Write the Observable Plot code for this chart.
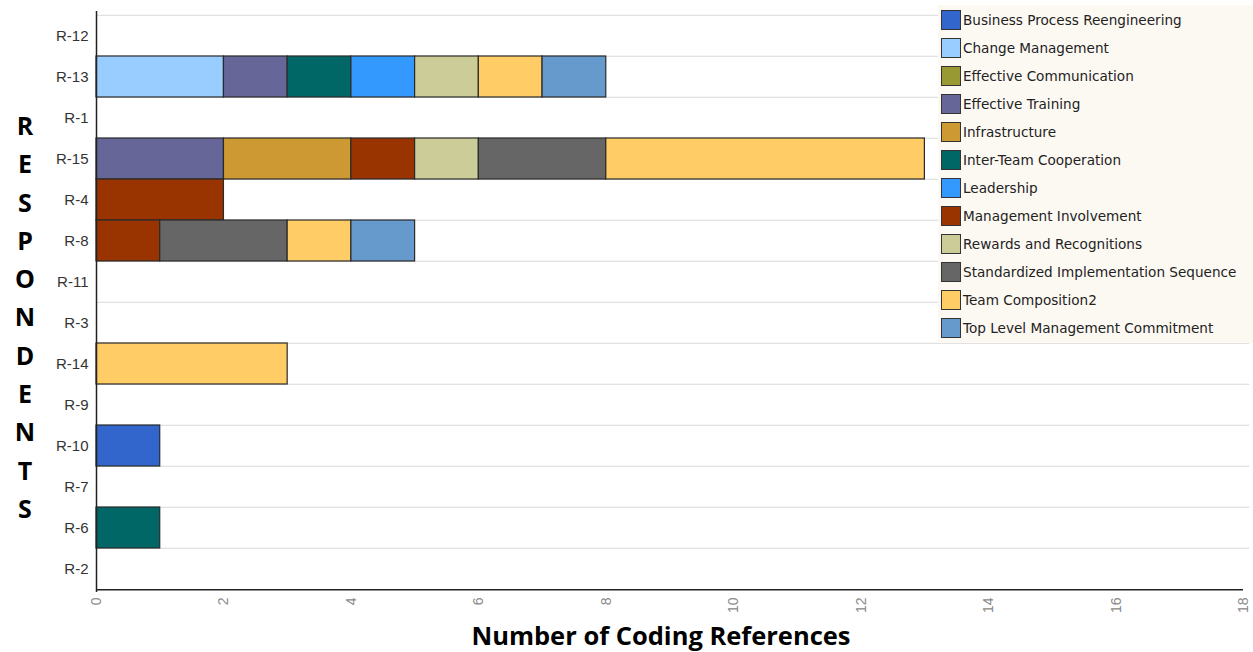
<!DOCTYPE html>
<html>
<head>
<meta charset="utf-8">
<script src="https://cdn.jsdelivr.net/npm/d3@7"></script>
<script src="https://cdn.jsdelivr.net/npm/@observablehq/plot@0.6"></script>
<style>
  html, body { margin: 0; padding: 0; background: #fff; }
  #wrap { position: relative; width: 1253px; height: 652px; overflow: hidden; }
  #ytitle { position: absolute; left: 11px; top: 106px; width: 28px; text-align: center;
    font-family: "Open Sans", sans-serif; font-weight: 700; font-size: 25px; line-height: 38.3px; color: #000; }
  #xtitle { position: absolute; left: 80px; width: 1162px; top: 617px; text-align: center;
    font-family: "Open Sans", sans-serif; font-weight: 700; font-size: 25.5px; line-height: 36px; color: #000; }
  #legend { position: absolute; left: 938px; top: 5px; width: 315px; height: 338px; background: #fcf9f3; }
  .item { position: absolute; left: 3px; height: 20px; display: flex; align-items: center;
    font-family: "DejaVu Sans", sans-serif; font-size: 13.6px; color: #222; white-space: nowrap; }
  .sw { width: 18px; height: 18px; border: 1px solid #333; margin-right: 2px; flex: none; }
</style>
</head>
<body>
<div id="wrap">
  <div id="chart"></div>
  <div id="ytitle"></div>
  <div id="xtitle"></div>
  <div id="legend"></div>
</div>
<script>
const respondents = ["R-12","R-13","R-1","R-15","R-4","R-8","R-11","R-3","R-14","R-9","R-10","R-7","R-6","R-2"];
const codes = ["Business Process Reengineering","Change Management","Effective Communication","Effective Training","Infrastructure","Inter-Team Cooperation","Leadership","Management Involvement","Rewards and Recognitions","Standardized Implementation Sequence","Team Composition2","Top Level Management Commitment"];
const colors = ["#3366cc","#99ccff","#999933","#666699","#cc9933","#006666","#3399ff","#993300","#cccc99","#666666","#ffcc66","#6699cc"];
const xTicks = [0,2,4,6,8,10,12,14,16,18];
// counts per respondent, in code order
const r13 = {"Change Management":2,"Effective Training":1,"Inter-Team Cooperation":1,"Leadership":1,"Rewards and Recognitions":1,"Team Composition2":1,"Top Level Management Commitment":1};
const r15 = {"Effective Training":2,"Infrastructure":2,"Management Involvement":1,"Rewards and Recognitions":1,"Standardized Implementation Sequence":2,"Team Composition2":5};
const r4 = {"Management Involvement":2};
const r8 = {"Management Involvement":1,"Standardized Implementation Sequence":2,"Team Composition2":1,"Top Level Management Commitment":1};
const r14 = {"Team Composition2":3};
const r10 = {"Business Process Reengineering":1};
const r6 = {"Inter-Team Cooperation":1};
const counts = {"R-13": r13, "R-15": r15, "R-4": r4, "R-8": r8, "R-14": r14, "R-10": r10, "R-6": r6};
const yTitle = "RESPONDENTS";
const xLabel = "Number of Coding References";

const data = [];
for (const c of codes) for (const r of respondents) {
  const v = (counts[r] || {})[c];
  if (v) data.push({resp: r, code: c, value: v});
}

const W = 1253, H = 615, mT = 11, mB = 23;
const bw = (H - mT - mB) / respondents.length;

const chart = Plot.plot({
  width: W, height: H,
  marginLeft: 96, marginRight: 10, marginTop: mT, marginBottom: mB,
  style: {fontFamily: "'Liberation Sans', Arial, sans-serif", fontSize: "13px", background: "transparent", overflow: "visible"},
  x: {domain: [0, 18], ticks: xTicks, label: null},
  y: {domain: respondents, padding: 0, label: null},
  color: {domain: codes, range: colors},
  marks: [
    Plot.ruleY(respondents, {y: d => d, dy: -bw / 2, stroke: "#d9d9d9", strokeWidth: 1.2, x1: 0, x2: 18.1}),
    Plot.barX(data, {x: "value", y: "resp", fill: "code", stroke: "#2a2a2a", strokeWidth: 1.2, order: codes}),
    Plot.ruleX([0], {stroke: "#222", strokeWidth: 1.5}),
    Plot.ruleY([respondents[respondents.length - 1]], {dy: bw / 2, stroke: "#222", strokeWidth: 1.5}),
    Plot.axisY({tickSize: 0, tickPadding: 8, fontSize: 15, color: "#333", label: null}),
    Plot.axisX({ticks: xTicks, tickSize: 0, tickPadding: 5, tickRotate: -90, fontSize: 14, color: "#8a8a8a", label: null})
  ]
});
document.getElementById("chart").appendChild(chart);

document.getElementById("ytitle").innerHTML = yTitle.split("").join("<br>");
document.getElementById("xtitle").textContent = xLabel;

const leg = document.getElementById("legend");
codes.forEach((c, i) => {
  const it = document.createElement("div");
  it.className = "item";
  it.style.top = (5 + i * 28) + "px";
  const sw = document.createElement("div");
  sw.className = "sw";
  sw.style.background = colors[i];
  const t = document.createElement("span");
  t.textContent = c;
  it.appendChild(sw); it.appendChild(t);
  leg.appendChild(it);
});
</script>
</body>
</html>
